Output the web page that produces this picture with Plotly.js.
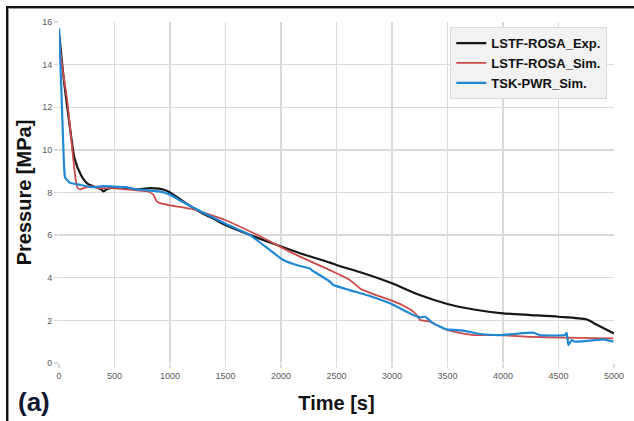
<!DOCTYPE html>
<html>
<head>
<meta charset="utf-8">
<script src="https://cdn.plot.ly/plotly-3.0.1.min.js"></script>
<style>
  html, body { margin: 0; padding: 0; background: #ffffff; }
  #wrap { position: relative; width: 634px; height: 421px; overflow: hidden; }
  #chart { position: absolute; left: 0; top: 0; width: 634px; height: 421px; }
  #frame { position: absolute; left: 6px; top: 6px; width: 640px; height: 430px;
           border-top: 2.5px solid #111; border-left: 2.5px solid #111;
           box-shadow: inset 1px 1px 0 #9a9a9a; pointer-events: none; }
</style>
</head>
<body>
<div id="wrap">
  <div id="chart"></div>
  <div id="frame"></div>
</div>
<script>
// Primary-system pressure transients (time in s, pressure in MPa)
const expTime = [0, 50, 100, 140, 200, 260, 330, 380, 400, 430, 500, 600, 700, 800, 900, 950, 1000, 1100, 1200, 1300, 1400, 1500, 1750, 2020, 2171, 2441, 2500, 2750, 3000, 3250, 3500, 3750, 4000, 4250, 4500, 4750, 4850, 5000];
const expPressure = [15.5, 13.0, 11.0, 9.6, 8.8, 8.4, 8.25, 8.15, 8.05, 8.15, 8.25, 8.2, 8.15, 8.2, 8.18, 8.12, 8.0, 7.65, 7.3, 7.0, 6.75, 6.47, 5.95, 5.43, 5.15, 4.71, 4.6, 4.2, 3.74, 3.19, 2.77, 2.5, 2.33, 2.25, 2.17, 2.05, 1.78, 1.38];

const rosaSimTime = [0, 40, 75, 110, 150, 170, 190, 250, 300, 350, 400, 500, 600, 700, 800, 850, 880, 910, 1000, 1210, 1495, 1750, 2020, 2171, 2441, 2532, 2620, 2712, 2850, 2982, 3100, 3192, 3230, 3252, 3342, 3492, 3733, 3973, 4243, 4544, 4994];
const rosaSimPressure = [15.1, 13.5, 12.3, 10.5, 8.6, 8.2, 8.15, 8.25, 8.3, 8.2, 8.2, 8.2, 8.15, 8.1, 8.05, 7.9, 7.6, 7.5, 7.4, 7.21, 6.71, 6.1, 5.38, 4.99, 4.36, 4.13, 3.9, 3.5, 3.2, 2.96, 2.7, 2.41, 2.2, 2.02, 1.94, 1.55, 1.31, 1.31, 1.23, 1.19, 1.16];

const pwrSimTime = [0, 20, 40, 55, 100, 200, 300, 400, 500, 600, 700, 800, 900, 1000, 1100, 1300, 1495, 1720, 1900, 2020, 2171, 2260, 2276, 2441, 2471, 2772, 2982, 3192, 3252, 3297, 3372, 3492, 3642, 3793, 3973, 4093, 4273, 4333, 4559, 4574, 4589, 4619, 4649, 4844, 4904, 4994];
const pwrSimPressure = [15.7, 13.0, 10.0, 8.7, 8.45, 8.35, 8.25, 8.3, 8.28, 8.25, 8.15, 8.1, 8.05, 7.9, 7.6, 7.05, 6.55, 6.0, 5.3, 4.83, 4.55, 4.44, 4.36, 3.82, 3.66, 3.19, 2.8, 2.25, 2.14, 2.17, 1.86, 1.58, 1.52, 1.36, 1.31, 1.36, 1.42, 1.31, 1.31, 1.42, 0.84, 1.08, 1.0, 1.08, 1.11, 1.0];

const seriesNames = ['LSTF-ROSA_Exp.', 'LSTF-ROSA_Sim.', 'TSK-PWR_Sim.'];
const xTicks = [0, 500, 1000, 1500, 2000, 2500, 3000, 3500, 4000, 4500, 5000];
const yTicks = [0, 2, 4, 6, 8, 10, 12, 14, 16];

const traces = [
  { x: expTime, y: expPressure, name: seriesNames[0], mode: 'lines',
    line: { color: '#161616', width: 2.2, shape: 'spline', smoothing: 0.6 } },
  { x: rosaSimTime, y: rosaSimPressure, name: seriesNames[1], mode: 'lines',
    line: { color: '#cc4b48', width: 1.8, shape: 'spline', smoothing: 0.4 } },
  { x: pwrSimTime, y: pwrSimPressure, name: seriesNames[2], mode: 'lines',
    line: { color: '#1f88d4', width: 2.2, shape: 'spline', smoothing: 0.4 } }
];

const tickFont = { family: 'Liberation Sans, Arial, sans-serif', size: 9, color: '#595959' };
const titleFont = { family: 'Liberation Sans, Arial, sans-serif', size: 20, color: '#111', weight: 'bold' };

const layout = {
  width: 634, height: 421,
  margin: { l: 59, r: 20, t: 22, b: 58 },
  paper_bgcolor: '#ffffff', plot_bgcolor: '#ffffff',
  showlegend: true,
  legend: {
    x: 0.705, y: 0.985, xanchor: 'left', yanchor: 'top',
    bgcolor: '#f2f2f2', bordercolor: '#d9d9d9', borderwidth: 1,
    font: { family: 'Liberation Sans, Arial, sans-serif', size: 13, color: '#111', weight: 'bold' },
    tracegroupgap: 0, itemwidth: 30
  },
  xaxis: {
    range: [0, 5000], tickvals: xTicks, ticktext: xTicks.map(String),
    showgrid: true, gridcolor: '#d9d9d9', gridwidth: 1.3,
    zeroline: false, showline: false,
    ticks: 'outside', ticklen: 4, tickcolor: '#d9d9d9', tickwidth: 1.3,
    tickfont: tickFont,
    title: { text: 'Time [s]', standoff: 16, font: titleFont }
  },
  yaxis: {
    range: [0, 16], tickvals: yTicks, ticktext: yTicks.map(String),
    showgrid: true, gridcolor: '#d9d9d9', gridwidth: 1.3,
    zeroline: false, showline: false,
    ticks: 'outside', ticklen: 4, tickcolor: '#d9d9d9', tickwidth: 1.3,
    tickfont: tickFont,
    title: { text: 'Pressure [MPa]', standoff: 5, font: titleFont }
  },
  annotations: [
    { text: '(a)', xref: 'paper', yref: 'paper', x: -0.078, y: -0.114,
      xanchor: 'left', yanchor: 'middle', showarrow: false,
      font: { family: 'Liberation Sans, Arial, sans-serif', size: 26, color: '#0d1530', weight: 'bold' } }
  ]
};

Plotly.newPlot('chart', traces, layout, { staticPlot: true, displayModeBar: false });
</script>
</body>
</html>
